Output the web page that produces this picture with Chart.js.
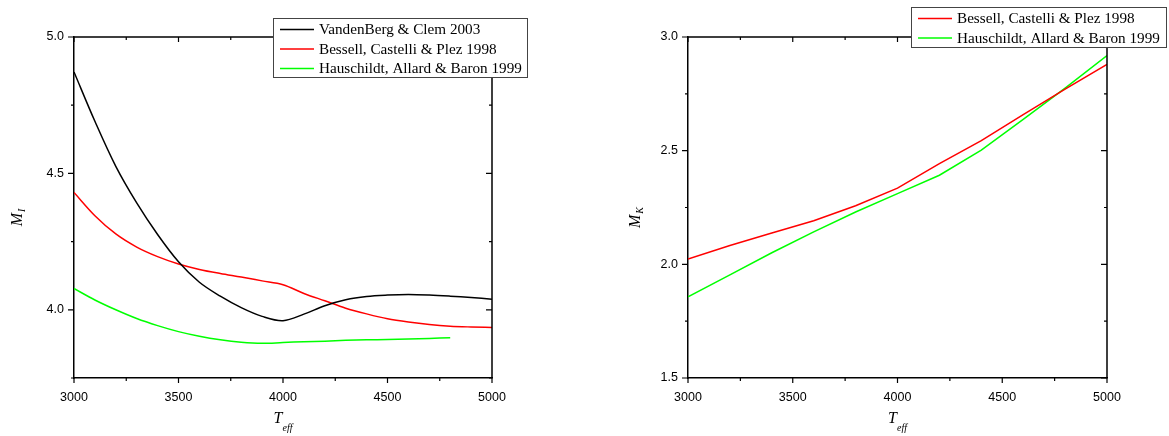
<!DOCTYPE html>
<html>
<head>
<meta charset="utf-8">
<script src="https://cdn.jsdelivr.net/npm/chart.js@4.4.0/dist/chart.umd.min.js"></script>
<style>
  body { margin: 0; background: #fff; }
  #wrap { position: relative; width: 1169px; height: 436px; }
  canvas { position: absolute; top: 0; }
</style>
</head>
<body>
<div id="wrap">
  <canvas id="chartI" width="584" height="436" style="left:0"></canvas>
  <canvas id="chartK" width="585" height="436" style="left:584px"></canvas>
</div>
<script>
// left panel: M_I vs Teff
const teffI = [3000, 3100, 3200, 3300, 3400, 3500, 3600, 3700, 3800, 3900, 4000,
               4100, 4200, 4300, 4400, 4500, 4600, 4700, 4800, 4900, 5000];
const vandenbergI = [4.872, 4.691, 4.526, 4.392, 4.276, 4.176, 4.101, 4.050, 4.008, 3.976, 3.96,
                     3.984, 4.015, 4.037, 4.049, 4.054, 4.056, 4.054, 4.05, 4.045, 4.039];
const bessellI = [4.43, 4.345, 4.278, 4.23, 4.195, 4.168, 4.148, 4.133, 4.12, 4.106, 4.092,
                  4.06, 4.033, 4.006, 3.985, 3.967, 3.955, 3.946, 3.94, 3.937, 3.935];
const hauschildtI = [4.078, 4.036, 4.0, 3.968, 3.942, 3.92, 3.903, 3.89, 3.881, 3.877, 3.880,
                     3.883, 3.885, 3.888, 3.89, 3.891, 3.893, 3.895, 3.898];

// right panel: M_K vs Teff
const teffK = [3000, 3200, 3400, 3600, 3800, 4000, 4200, 4400, 4600, 4800, 5000];
const bessellK = [2.023, 2.083, 2.138, 2.192, 2.258, 2.335, 2.443, 2.544, 2.659, 2.771, 2.88];
const hauschildtK = [1.857, 1.954, 2.051, 2.143, 2.23, 2.311, 2.392, 2.502, 2.638, 2.775, 2.918];

// major tick labels
const teffTicks = [3000, 3500, 4000, 4500, 5000];
const magITicks = [4.0, 4.5, 5.0];
const magKTicks = [1.5, 2.0, 2.5, 3.0];

const legendNames = {
  vandenberg: 'VandenBerg & Clem 2003',
  bessell: 'Bessell, Castelli & Plez 1998',
  hauschildt: 'Hauschildt, Allard & Baron 1999'
};

const sansFont = '"Liberation Sans", Arial, sans-serif';
const serifFont = '"Liberation Serif", "Times New Roman", serif';

function pts(xs, ys) {
  return ys.map((y, i) => ({ x: xs[i], y: y }));
}

// frame, ticks, axis titles and legend
const decor = {
  id: 'decor',
  afterDraw(chart, args, opts) {
    const ctx = chart.ctx;
    const a = chart.chartArea;
    const sx = chart.scales.x, sy = chart.scales.y;
    ctx.save();

    ctx.strokeStyle = '#000';
    ctx.lineWidth = 1.5;
    ctx.beginPath();
    ctx.moveTo(a.left, a.top);
    ctx.lineTo(a.right, a.top);
    ctx.lineTo(a.right, a.bottom);
    ctx.stroke();

    function marks(scale) {
      const vals = scale.ticks.map(t => t.value);
      const out = vals.map(v => [v, true]);
      for (let i = 0; i < vals.length - 1; i++) out.push([(vals[i] + vals[i + 1]) / 2, false]);
      const half = (vals[1] - vals[0]) / 2;
      if (vals[0] - half >= scale.min - 1e-9) out.push([vals[0] - half, false]);
      return out;
    }

    ctx.lineWidth = 1.2;
    ctx.beginPath();
    marks(sx).forEach(([v, major]) => {
      const px = sx.getPixelForValue(v);
      ctx.moveTo(px, a.bottom); ctx.lineTo(px, a.bottom + (major ? 5 : 3));
      ctx.moveTo(px, a.top); ctx.lineTo(px, a.top + (major ? 5 : 3));
    });
    marks(sy).forEach(([v, major]) => {
      const py = sy.getPixelForValue(v);
      ctx.moveTo(a.left, py); ctx.lineTo(a.left - (major ? 6 : 3), py);
      ctx.moveTo(a.right, py); ctx.lineTo(a.right - (major ? 6 : 3), py);
    });
    ctx.stroke();

    // y title, rotated
    ctx.fillStyle = '#000';
    ctx.save();
    ctx.translate(opts.yTitleX, (a.top + a.bottom) / 2 + 10);
    ctx.rotate(-Math.PI / 2);
    ctx.font = 'italic 16px ' + serifFont;
    const mw = ctx.measureText('M').width;
    ctx.font = 'italic 10px ' + serifFont;
    const sw = ctx.measureText(opts.ySub).width;
    const x0 = -(mw + sw + 1) / 2;
    ctx.textBaseline = 'alphabetic';
    ctx.font = 'italic 16px ' + serifFont;
    ctx.fillText('M', x0, 0);
    ctx.font = 'italic 10px ' + serifFont;
    ctx.fillText(opts.ySub, x0 + mw + 1, 3);
    ctx.restore();

    // x title
    ctx.font = 'italic 16px ' + serifFont;
    const tw = ctx.measureText('T').width;
    ctx.font = 'italic 10px ' + serifFont;
    const ew = ctx.measureText('eff').width;
    const tx = (a.left + a.right) / 2 - (tw + ew) / 2;
    ctx.font = 'italic 16px ' + serifFont;
    ctx.fillText('T', tx, 423);
    ctx.font = 'italic 10px ' + serifFont;
    ctx.fillText('eff', tx + tw, 431);

    // legend
    const b = opts.legend;
    ctx.fillStyle = '#fff';
    ctx.fillRect(b.x, b.y, b.w, b.h);
    ctx.strokeStyle = '#444';
    ctx.lineWidth = 1;
    ctx.strokeRect(b.x + 0.5, b.y + 0.5, b.w, b.h);
    ctx.font = '15.2px ' + serifFont;
    ctx.textBaseline = 'middle';
    chart.data.datasets.forEach((ds, i) => {
      const ry = b.y + 11.5 + i * 19.5;
      ctx.strokeStyle = ds.borderColor;
      ctx.lineWidth = 1.5;
      ctx.beginPath();
      ctx.moveTo(b.x + 7, ry); ctx.lineTo(b.x + 41, ry);
      ctx.stroke();
      ctx.fillStyle = '#000';
      ctx.fillText(ds.label, b.x + 46, ry + 1);
    });
    ctx.restore();
  }
};

function makeOptions(yMin, yMax, yTicks, yWidth, padRight, decorOpts) {
  return {
    responsive: false,
    animation: false,
    layout: { padding: { top: 37, right: padRight, left: 0, bottom: 0 } },
    plugins: {
      legend: { display: false },
      tooltip: { enabled: false },
      decor: decorOpts
    },
    elements: { point: { radius: 0 } },
    scales: {
      x: {
        type: 'linear',
        min: 3000,
        max: 5000,
        afterBuildTicks: s => { s.ticks = teffTicks.map(v => ({ value: v })); },
        afterFit: s => { s.height = 58; },
        ticks: { color: '#000', font: { family: sansFont, size: 12.5 }, padding: 12, autoSkip: false, maxRotation: 0,
                 callback: v => String(v) },
        grid: { display: false, drawTicks: false },
        border: { display: true, color: '#000', width: 1.5 }
      },
      y: {
        min: yMin,
        max: yMax,
        afterBuildTicks: s => { s.ticks = yTicks.map(v => ({ value: v })); },
        afterFit: s => { s.width = yWidth; },
        ticks: { color: '#000', font: { family: sansFont, size: 12.5 }, padding: 10,
                 callback: v => v.toFixed(1) },
        grid: { display: false, drawTicks: false },
        border: { display: true, color: '#000', width: 1.5 }
      }
    }
  };
}

new Chart(document.getElementById('chartI'), {
  type: 'line',
  data: {
    datasets: [
      { label: legendNames.vandenberg, data: pts(teffI, vandenbergI), borderColor: '#000000', borderWidth: 1.5, tension: 0.35 },
      { label: legendNames.bessell, data: pts(teffI, bessellI), borderColor: '#ff0000', borderWidth: 1.5, cubicInterpolationMode: 'monotone' },
      { label: legendNames.hauschildt, data: pts(teffI, hauschildtI), borderColor: '#00ff00', borderWidth: 1.5, tension: 0.35 }
    ]
  },
  options: makeOptions(3.75, 5.0, magITicks, 74, 92, {
    yTitleX: 22, ySub: 'I',
    legend: { x: 273, y: 18, w: 254, h: 59 }
  }),
  plugins: [decor]
});

new Chart(document.getElementById('chartK'), {
  type: 'line',
  data: {
    datasets: [
      { label: legendNames.bessell, data: pts(teffK, bessellK), borderColor: '#ff0000', borderWidth: 1.5 },
      { label: legendNames.hauschildt, data: pts(teffK, hauschildtK), borderColor: '#00ff00', borderWidth: 1.5 }
    ]
  },
  options: makeOptions(1.5, 3.0, magKTicks, 104, 62, {
    yTitleX: 56, ySub: 'K',
    legend: { x: 327, y: 7, w: 255, h: 40 }
  }),
  plugins: [decor]
});
</script>
</body>
</html>
